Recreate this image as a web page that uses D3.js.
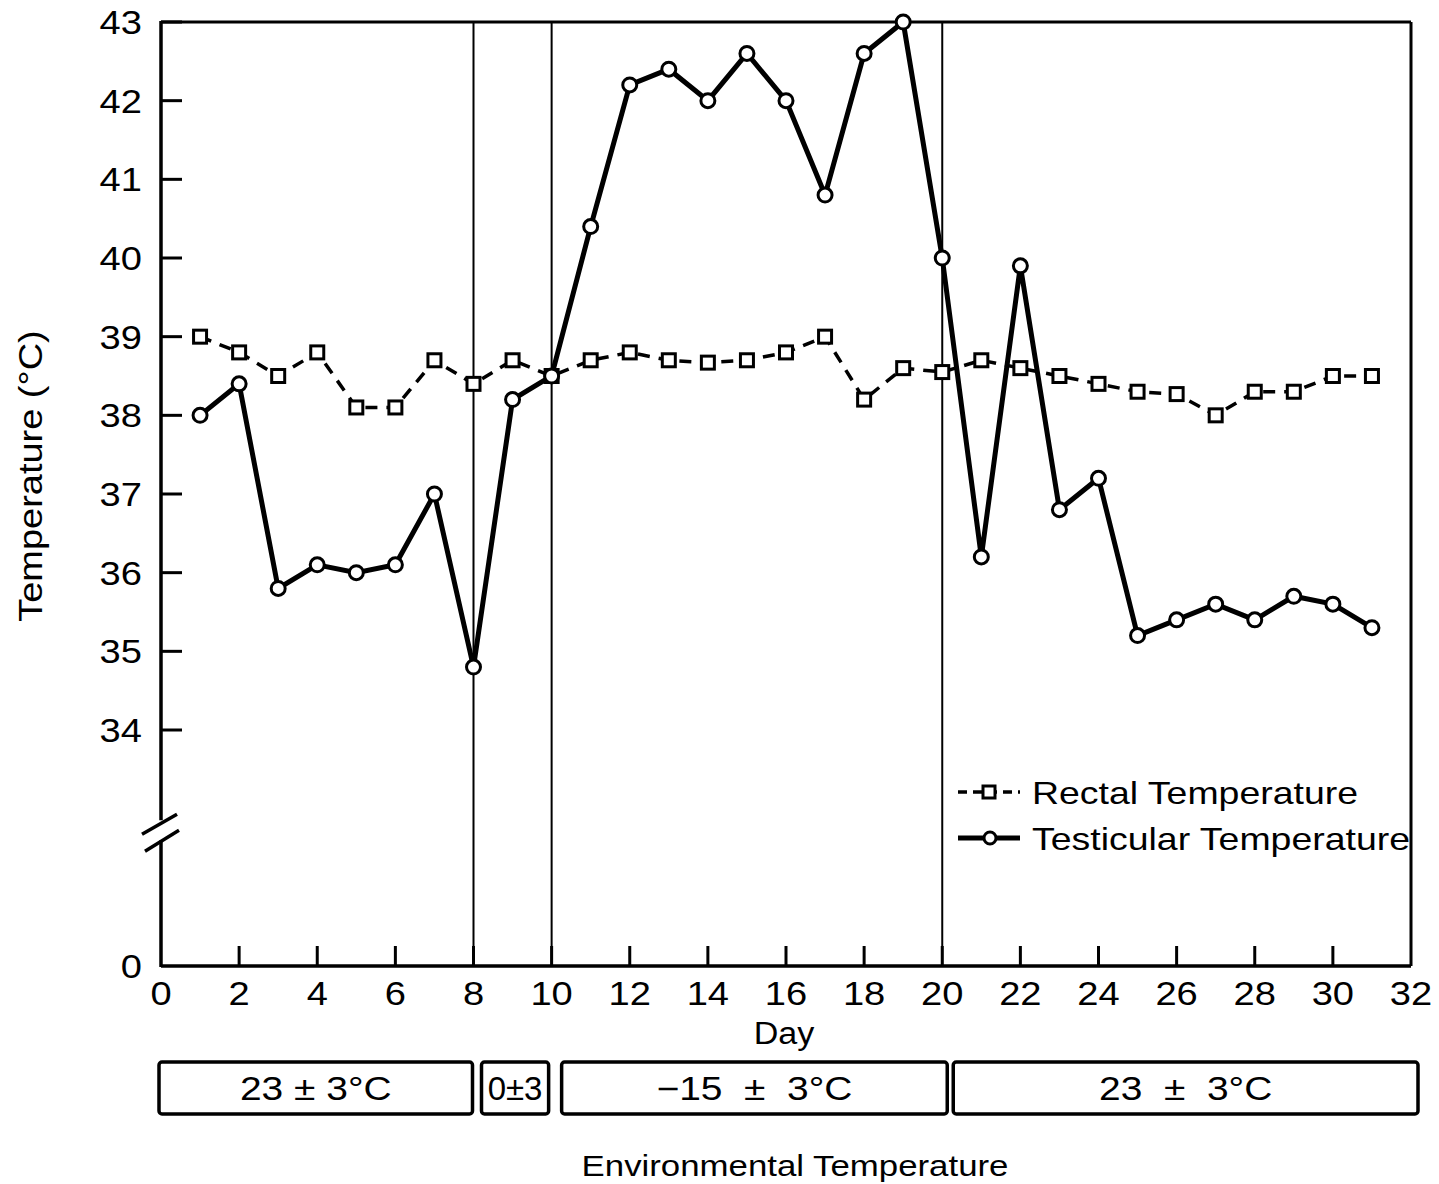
<!DOCTYPE html>
<html><head><meta charset="utf-8">
<script src="https://cdn.jsdelivr.net/npm/d3@7"></script>
<style>body{margin:0;background:#fff;} text{font-family:"Liberation Sans",Arial,sans-serif;fill:#000;}</style>
</head><body>
<svg id="c" width="1439" height="1184"></svg>
<script>
const days = d3.range(1, 32);
const rectal = [39.0,38.8,38.5,38.8,38.1,38.1,38.7,38.4,38.7,38.5,38.7,38.8,38.7,38.67,38.7,38.8,39.0,38.2,38.6,38.55,38.7,38.6,38.5,38.4,38.3,38.27,38.0,38.3,38.3,38.5,38.5];
const testicular = [38.0,38.4,35.8,36.1,36.0,36.1,37.0,34.8,38.2,38.5,40.4,42.2,42.4,42.0,42.6,42.0,40.8,42.6,43.0,40.0,36.2,39.9,36.8,37.2,35.2,35.4,35.6,35.4,35.7,35.6,35.3];
const xTicks = d3.range(0, 33, 2);
const yTicks = [34,35,36,37,38,39,40,41,42,43];
const yZeroPos = 31;          // axis position where the broken axis shows "0"
const phaseBounds = [8, 10, 20];
const envPhases = [
  {from:0, to:8, label:"23 ± 3°C"},
  {from:8, to:10, label:"0±3"},
  {from:10, to:20, label:"−15\u00A0\u00A0±\u00A0\u00A03°C"},
  {from:20, to:32, label:"23\u00A0\u00A0±\u00A0\u00A03°C"}
];
const seriesNames = ["Rectal Temperature","Testicular Temperature"];

const svg = d3.select("#c");
const L=161, R=1411, T=22, B=966;
const x = d3.scaleLinear().domain([0,32]).range([L,R]);
const y = d3.scaleLinear().domain([yZeroPos,43]).range([B,T]);
const g = svg.append("g");

function stretch(sel, k){
  sel.each(function(){
    const len = this.getComputedTextLength();
    d3.select(this).attr("textLength", len*k).attr("lengthAdjust","spacingAndGlyphs");
  });
  return sel;
}

// frame top & right
g.append("line").attr("x1",L).attr("x2",R).attr("y1",T).attr("y2",T).attr("stroke","#000").attr("stroke-width",3);
g.append("line").attr("x1",R).attr("x2",R).attr("y1",T).attr("y2",B).attr("stroke","#000").attr("stroke-width",3);
// bottom axis
g.append("line").attr("x1",L).attr("x2",R).attr("y1",B).attr("y2",B).attr("stroke","#000").attr("stroke-width",3.5);
// left axis broken
const brk = y(32.7);
g.append("line").attr("x1",L).attr("x2",L).attr("y1",T-1).attr("y2",brk-12).attr("stroke","#000").attr("stroke-width",3.5);
g.append("line").attr("x1",L).attr("x2",L).attr("y1",brk+8).attr("y2",B+1).attr("stroke","#000").attr("stroke-width",3.5);
g.append("line").attr("x1",L-19).attr("x2",L+16).attr("y1",brk+2).attr("y2",brk-18).attr("stroke","#000").attr("stroke-width",3.5);
g.append("line").attr("x1",L-16).attr("x2",L+18).attr("y1",brk+19).attr("y2",brk-2).attr("stroke","#000").attr("stroke-width",3.5);

// phase separators
phaseBounds.forEach(d=>{
  g.append("line").attr("x1",x(d)).attr("x2",x(d)).attr("y1",T).attr("y2",B).attr("stroke","#000").attr("stroke-width",2);
});

// y ticks
yTicks.concat([yZeroPos]).forEach(v=>{
  if(v!==yZeroPos) g.append("line").attr("x1",L).attr("x2",L+21).attr("y1",y(v)).attr("y2",y(v)).attr("stroke","#000").attr("stroke-width",3);
  stretch(g.append("text").attr("x",142).attr("y",y(v)+12).attr("text-anchor","end").attr("font-size",34).text(v===yZeroPos?"0":v), 1.12);
});
// x ticks
xTicks.forEach(v=>{
  if(v>0 && v<32) g.append("line").attr("x1",x(v)).attr("x2",x(v)).attr("y1",B).attr("y2",B-20).attr("stroke","#000").attr("stroke-width",3);
  stretch(g.append("text").attr("x",x(v)).attr("y",1005).attr("text-anchor","middle").attr("font-size",34).text(v), 1.12);
});
stretch(g.append("text").attr("x",784).attr("y",1044).attr("text-anchor","middle").attr("font-size",31).text("Day"),1.1);
stretch(g.append("text").attr("transform","translate(42,476) rotate(-90)").attr("text-anchor","middle").attr("font-size",33).text("Temperature (°C)"),1.15);

// lines
const line = d3.line().x((d,i)=>x(days[i])).y(d=>y(d));
g.append("path").attr("d",line(rectal)).attr("fill","none").attr("stroke","#000").attr("stroke-width",3.5).attr("stroke-dasharray","12,9");
g.append("path").attr("d",line(testicular)).attr("fill","none").attr("stroke","#000").attr("stroke-width",5);
g.selectAll(".sq").data(rectal).enter().append("rect")
  .attr("x",(d,i)=>x(days[i])-6.5).attr("y",d=>y(d)-6.5).attr("width",13).attr("height",13)
  .attr("fill","#fff").attr("stroke","#000").attr("stroke-width",3);
g.selectAll(".ci").data(testicular).enter().append("circle")
  .attr("cx",(d,i)=>x(days[i])).attr("cy",d=>y(d)).attr("r",7)
  .attr("fill","#fff").attr("stroke","#000").attr("stroke-width",3);

// legend
const lg = g.append("g");
lg.append("line").attr("x1",958).attr("x2",1020).attr("y1",792).attr("y2",792).attr("stroke","#000").attr("stroke-width",3.5).attr("stroke-dasharray","9,6");
lg.append("rect").attr("x",983).attr("y",786).attr("width",12).attr("height",12).attr("fill","#fff").attr("stroke","#000").attr("stroke-width",3);
stretch(lg.append("text").attr("x",1032).attr("y",804).attr("font-size",32).text(seriesNames[0]),1.17);
lg.append("line").attr("x1",958).attr("x2",1020).attr("y1",838).attr("y2",838).attr("stroke","#000").attr("stroke-width",5);
lg.append("circle").attr("cx",990).attr("cy",838).attr("r",6).attr("fill","#fff").attr("stroke","#000").attr("stroke-width",3);
stretch(lg.append("text").attr("x",1032).attr("y",850).attr("font-size",32).text(seriesNames[1]),1.17);

// environmental temperature boxes
const boxPad = [[ -2, -1],[8,-3],[10,5],[11,7]];
envPhases.forEach((p,i)=>{
  const x0 = x(p.from)+boxPad[i][0], x1 = x(p.to)+boxPad[i][1];
  g.append("rect").attr("x",x0).attr("y",1062).attr("width",x1-x0).attr("height",52).attr("rx",3)
    .attr("fill","none").attr("stroke","#000").attr("stroke-width",3.5);
  stretch(g.append("text").attr("x",(x0+x1)/2).attr("y",1100).attr("text-anchor","middle").attr("font-size",33).text(p.label), i===1?1.0:1.18);
});
stretch(g.append("text").attr("x",795).attr("y",1176).attr("text-anchor","middle").attr("font-size",30).text("Environmental Temperature"),1.16);
</script>
</body></html>
